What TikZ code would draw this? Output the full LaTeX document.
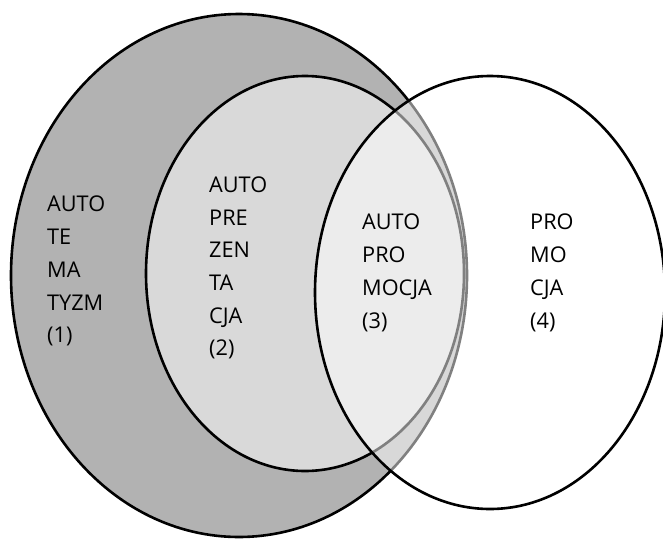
\documentclass[tikz,border=0pt]{standalone}
\usepackage{fontspec}
\setmainfont{Open Sans}
\definecolor{ciemny}{HTML}{B2B2B2}
\definecolor{jasny}{HTML}{D9D9D9}

\begin{document}
\begin{tikzpicture}[x=1pt,y=-1pt,
  zb/.style={draw=black,line width=2.6pt},
  t/.style={inner sep=0pt,anchor=north west,align=left,font=\fontsize{21.7}{32.7}\selectfont}]
  \useasboundingbox (0,0) rectangle (663,538);
  % zbiory
  \path[zb,fill=ciemny] (239,275.5) ellipse [x radius=228pt,y radius=261.5pt];
  \path[zb,fill=jasny] (305,273.5) ellipse [x radius=159pt,y radius=197.5pt];
  \path[zb,fill=white,fill opacity=0.5] (490,292.5) ellipse [x radius=175pt,y radius=216.5pt];
  % opisy
  \node[t] (atm) at (47,196) {AUTO\\TE\\MA\\TYZM\\(1)};
  \node[t] (apr) at (209,176.5) {AUTO\\PRE\\ZEN\\TA\\CJA\\(2)};
  \node[t] (apm) at (362,214) {AUTO\\PRO\\MOCJA\\(3)};
  \node[t] (pro) at (530,214) {PRO\\MO\\CJA\\(4)};
\end{tikzpicture}
\end{document}
